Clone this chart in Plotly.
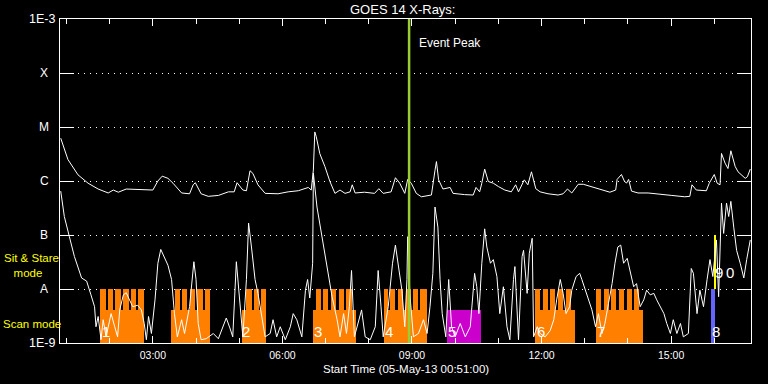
import math
import pandas as pd
import plotly.graph_objects as go

DAY = "2013-05-05"
X_START = "00:51"
X_END = "16:51"

# GOES 14 long channel (1-8 A), W/m^2
LONG_TIME = ["00:52", "01:02", "01:16", "01:30", "01:44", "01:58", "02:05", "02:12", "02:23", "02:49",
             "03:00", "03:07", "03:13", "03:21", "03:28", "03:40", "03:51", "03:56", "03:59", "04:07",
             "04:17", "04:31", "04:45", "04:53", "04:57", "05:05", "05:10", "05:15", "05:19", "05:26",
             "05:36", "05:54", "06:08", "06:22", "06:36", "06:40", "06:43", "06:45", "06:47", "06:52",
             "06:59", "07:06", "07:13", "07:20", "07:27", "07:34", "07:37", "07:41", "07:54", "08:08",
             "08:14", "08:20", "08:31", "08:37", "08:43", "08:50", "08:54", "08:59", "09:06", "09:13",
             "09:27", "09:32", "09:34", "09:37", "09:43", "09:53", "09:57", "10:13", "10:25", "10:29",
             "10:34", "10:37", "10:41", "10:46", "10:53", "11:00", "11:09", "11:18", "11:24", "11:28",
             "11:36", "11:41", "11:46", "11:52", "11:58", "12:09", "12:23", "12:30", "12:36", "12:42",
             "12:51", "12:58", "13:19", "13:28", "13:35", "13:43", "13:45", "13:51", "13:55", "13:58",
             "14:01", "14:05", "14:14", "14:28", "14:42", "15:01", "15:19", "15:26", "15:29", "15:35",
             "15:49", "15:53", "16:00", "16:04", "16:08", "16:10", "16:15", "16:19", "16:23", "16:29",
             "16:33", "16:43", "16:46", "16:50"]
LONG_FLUX = [6.2e-6, 2.5e-6, 1.3e-6, 9.1e-7, 7.1e-7, 6.0e-7, 6.8e-7, 6.2e-7, 7.1e-7, 6.8e-7,
             6.8e-7, 1.0e-6, 1.23e-6, 1.12e-6, 9.1e-7, 6.0e-7, 5.8e-7, 8.5e-7, 9.3e-7, 5.8e-7,
             5.2e-7, 5.4e-7, 6.3e-7, 6.3e-7, 9.3e-7, 6.8e-7, 6.6e-7, 1.55e-6, 1.38e-6, 8.5e-7,
             5.9e-7, 5.8e-7, 6.3e-7, 6.6e-7, 7.6e-7, 6.8e-7, 1.6e-6, 8.1e-6, 6.6e-6, 3.2e-6,
             1.86e-6, 9.8e-7, 5.9e-7, 6.8e-7, 5.9e-7, 6.3e-7, 8.5e-7, 6.0e-7, 6.2e-7, 5.9e-7,
             7.2e-7, 5.9e-7, 6.3e-7, 1.15e-6, 9.1e-7, 5.9e-7, 1.07e-6, 9.1e-7, 5.9e-7, 5.1e-7,
             5.5e-7, 1.58e-6, 2.29e-6, 1.05e-6, 7.1e-7, 7.6e-7, 5.9e-7, 5.6e-7, 5.5e-7, 7.6e-7,
             6.3e-7, 9.1e-7, 1.66e-6, 9.8e-7, 9.1e-7, 7.9e-7, 6.8e-7, 6.3e-7, 8.5e-7, 6.3e-7,
             1.05e-6, 8.5e-7, 1.48e-6, 7.2e-7, 6.3e-7, 5.8e-7, 5.5e-7, 5.8e-7, 7.1e-7, 6.0e-7,
             8.7e-7, 8.7e-7, 7.1e-7, 6.6e-7, 6.2e-7, 6.8e-7, 1.07e-6, 1.32e-6, 1.0e-6, 9.1e-7,
             1.07e-6, 6.5e-7, 6.0e-7, 6.0e-7, 5.8e-7, 5.4e-7, 5.1e-7, 5.2e-7, 8.5e-7, 6.8e-7,
             6.6e-7, 9.1e-7, 1.32e-6, 9.1e-7, 8.5e-7, 3.24e-6, 2.14e-6, 1.70e-6, 3.63e-6, 1.86e-6,
             1.48e-6, 1.12e-6, 1.20e-6, 1.66e-6]

# GOES 14 short channel (0.5-4 A), W/m^2
SHORT_TIME = ["00:52", "00:57", "01:04", "01:11", "01:21", "01:28", "01:34", "01:39", "01:41", "01:44",
              "01:48", "01:51", "01:55", "02:02", "02:07", "02:11", "02:14", "02:19", "02:23", "02:28",
              "02:32", "02:39", "02:44", "02:48", "02:51", "02:54", "02:58", "03:03", "03:07", "03:11",
              "03:16", "03:21", "03:26", "03:30", "03:34", "03:40", "03:44", "03:51", "03:57", "04:00",
              "04:03", "04:07", "04:14", "04:24", "04:31", "04:38", "04:42", "04:47", "04:51", "04:56",
              "05:01", "05:05", "05:10", "05:13", "05:17", "05:22", "05:26", "05:31", "05:36", "05:43",
              "05:47", "05:52", "05:57", "06:04", "06:11", "06:15", "06:20", "06:27", "06:32", "06:35",
              "06:38", "06:42", "06:43", "06:48", "06:55", "07:02", "07:09", "07:16", "07:20", "07:25",
              "07:29", "07:33", "07:36", "07:40", "07:46", "07:50", "07:55", "08:02", "08:09", "08:13",
              "08:17", "08:20", "08:27", "08:33", "08:37", "08:41", "08:46", "08:50", "08:53", "08:54",
              "08:57", "09:02", "09:09", "09:16", "09:21", "09:25", "09:29", "09:32", "09:36", "09:39",
              "09:42", "09:47", "09:51", "09:55", "10:00", "10:07", "10:14", "10:21", "10:27", "10:30",
              "10:33", "10:37", "10:41", "10:44", "10:49", "10:53", "10:58", "11:02", "11:07", "11:12",
              "11:16", "11:21", "11:23", "11:28", "11:33", "11:35", "11:40", "11:43", "11:47", "11:49",
              "11:54", "11:58", "12:05", "12:12", "12:17", "12:21", "12:26", "12:30", "12:34", "12:39",
              "12:42", "12:48", "12:53", "12:56", "13:01", "13:05", "13:10", "13:15", "13:19", "13:24",
              "13:28", "13:33", "13:38", "13:42", "13:46", "13:50", "13:54", "13:59", "14:03", "14:08",
              "14:12", "14:17", "14:22", "14:26", "14:31", "14:36", "14:40", "14:45", "14:50", "14:54",
              "14:59", "15:03", "15:08", "15:13", "15:17", "15:24", "15:28", "15:31", "15:36", "15:40",
              "15:45", "15:50", "15:54", "15:58", "16:03", "16:06", "16:10", "16:13", "16:17", "16:20",
              "16:23", "16:27", "16:31", "16:36", "16:41", "16:45", "16:50"]
SHORT_FLUX = [6.5e-7, 2.2e-7, 9.3e-8, 4.0e-8, 1.6e-8, 1.4e-8, 7.8e-9, 4.7e-9, 2.0e-9, 3.1e-9,
              1.15e-9, 2.7e-9, 1.3e-9, 3.5e-9, 2.0e-9, 1.3e-9, 4.1e-9, 7.8e-9, 8.5e-9, 6.3e-9,
              4.7e-9, 5.0e-9, 4.1e-9, 2.3e-9, 1.15e-9, 3.1e-9, 1.5e-9, 6.3e-9, 3.0e-8, 5.4e-8,
              3.7e-8, 2.75e-8, 1.5e-8, 3.5e-9, 1.3e-9, 2.7e-9, 1.5e-9, 4.7e-9, 3.2e-8, 1.5e-8,
              2.3e-9, 1.15e-9, 1.2e-9, 1.5e-9, 1.2e-9, 2.0e-9, 2.9e-9, 1.9e-9, 1.3e-9, 3.2e-8,
              4.7e-9, 1.3e-9, 1.5e-8, 1.66e-7, 6.0e-8, 1.5e-8, 8.3e-9, 3.5e-9, 1.3e-9, 1.5e-9,
              2.7e-9, 1.3e-9, 2.0e-9, 1.15e-9, 2.0e-9, 3.5e-9, 2.7e-9, 1.3e-9, 9.5e-9, 1.5e-8,
              6.8e-9, 3.0e-8, 1.4e-6, 3.3e-7, 9.3e-8, 2.6e-8, 7.2e-9, 2.7e-9, 1.3e-9, 3.5e-9,
              1.5e-9, 4.7e-9, 2.2e-8, 1.3e-9, 2.7e-9, 4.1e-9, 1.3e-9, 1.15e-9, 2.0e-9, 2.2e-8,
              4.7e-9, 1.3e-9, 4.7e-9, 3.0e-8, 6.5e-8, 3.0e-8, 9.5e-9, 2.0e-9, 1.5e-8, 9.3e-8,
              8.3e-9, 1.3e-9, 1.5e-9, 2.7e-9, 1.5e-9, 4.7e-9, 1.95e-8, 3.3e-7, 1.4e-7, 1.5e-8,
              3.5e-9, 1.3e-9, 1.5e-8, 2.0e-9, 1.3e-9, 2.3e-9, 1.3e-9, 2.0e-9, 1.95e-8, 1.1e-8,
              3.5e-9, 3.0e-8, 1.3e-7, 6.0e-8, 3.0e-8, 3.5e-8, 1.7e-8, 3.5e-9, 1.1e-8, 2.0e-9,
              1.15e-9, 1.5e-8, 2.6e-8, 1.15e-9, 4.0e-8, 5.2e-8, 8.3e-9, 4.6e-8, 8.7e-8, 1.3e-9,
              2.0e-9, 1.5e-9, 1.3e-9, 1.7e-9, 2.7e-9, 6.3e-9, 1.5e-8, 8.3e-9, 3.5e-9, 4.7e-9,
              9.5e-9, 1.7e-8, 1.95e-8, 1.5e-8, 9.5e-9, 6.3e-9, 4.1e-9, 2.0e-9, 3.5e-9, 1.5e-9,
              2.3e-9, 5.4e-9, 1.26e-8, 3.0e-8, 6.0e-8, 6.5e-8, 3.0e-8, 3.7e-8, 2.2e-8, 1.1e-8,
              1.26e-8, 4.7e-9, 6.3e-9, 9.5e-9, 7.8e-9, 8.3e-9, 6.3e-9, 4.7e-9, 3.5e-9, 2.3e-9,
              1.5e-9, 2.7e-9, 1.5e-9, 2.3e-9, 1.3e-9, 1.5e-9, 2.4e-8, 1.95e-8, 3.5e-9, 9.5e-9,
              4.7e-9, 1.5e-8, 3.5e-8, 1.7e-8, 8.1e-8, 7.2e-9, 3.9e-7, 1.07e-7, 3.9e-7, 2.2e-7,
              4.2e-7, 1.4e-7, 5.2e-8, 3.0e-8, 1.6e-8, 3.5e-8, 8.1e-8]

# Observation blocks
OBS_START = ["01:47", "03:25", "05:04", "06:42", "08:21", "09:49", "11:51", "13:16", "15:56", "15:59"]
OBS_END = ["02:48", "04:20", "05:37", "07:42", "09:21", "10:36", "12:47", "14:21", "16:01", "16:03"]
OBS_KIND = ["raster", "raster", "raster", "raster", "raster", "mosaic", "raster", "raster", "scan", "sitstare"]

# Individual rasters within the raster blocks
RASTER_START = ["01:47", "01:58", "02:08", "02:19", "02:30", "02:40",
                "03:31", "03:41", "03:52", "04:02", "04:13",
                "05:10", "05:21", "05:30",
                "06:47", "06:57", "07:08", "07:18", "07:29",
                "08:21", "08:30", "08:40", "08:51", "09:01", "09:11",
                "11:51", "12:02", "12:12", "12:23", "12:34",
                "13:16", "13:27", "13:37", "13:48", "13:59", "14:09"]
RASTER_END = ["01:55", "02:05", "02:16", "02:27", "02:37", "02:48",
              "03:38", "03:48", "03:59", "04:09", "04:20",
              "05:18", "05:28", "05:37",
              "06:53", "07:04", "07:15", "07:25", "07:36",
              "08:26", "08:37", "08:47", "08:58", "09:08", "09:21",
              "11:58", "12:09", "12:19", "12:30", "12:41",
              "13:23", "13:34", "13:44", "13:55", "14:06", "14:16"]

LABEL_TEXT = ["1", "2", "3", "4", "5", "6", "7", "8", "9", "0"]
LABEL_TIME = ["01:55", "05:10", "06:50", "08:28", "09:56", "11:59", "13:23", "16:03", "16:07", "16:22"]
LABEL_ROW = ["scan"] * 8 + ["sitstare"] * 2

EVENT_PEAK = "08:56"

LEVEL_VALS = [1e-9, 1e-8, 1e-7, 1e-6, 1e-5, 1e-4, 1e-3]
LEVEL_TEXT = ["1E-9", "A", "B", "C", "M", "X", "1E-3"]

# ---------------- styling ----------------
FONT = "Liberation Sans"
KIND_STYLE = {  # color, bottom, top (in flux units of the log axis)
    "raster": ("#ff8000", 1e-9, 4.1e-9),
    "mosaic": ("#cc00cc", 1e-9, 4.1e-9),
    "scan": ("#6464ff", 1e-9, 1e-8),
    "sitstare": ("#ffff00", 1e-8, 1e-7),
}
RASTER_TOP = 1e-8
LABEL_Y = {"scan": 10 ** -8.78, "sitstare": 10 ** -7.69}


def ts(t):
    return pd.Timestamp(f"{DAY} {t}")


fig = go.Figure()

for kind, (color, bottom, top) in KIND_STYLE.items():
    idx = [i for i, k in enumerate(OBS_KIND) if k == kind]
    if not idx:
        continue
    s = [ts(OBS_START[i]) for i in idx]
    e = [ts(OBS_END[i]) for i in idx]
    fig.add_trace(go.Bar(
        x=[a + (b - a) / 2 for a, b in zip(s, e)],
        y=[top - bottom] * len(idx), base=[bottom] * len(idx),
        width=[(b - a).total_seconds() * 1000 for a, b in zip(s, e)],
        marker=dict(color=color, line=dict(width=0)), hoverinfo="skip"))

rs = [ts(t) for t in RASTER_START]
re_ = [ts(t) for t in RASTER_END]
fig.add_trace(go.Bar(
    x=[a + (b - a) / 2 for a, b in zip(rs, re_)],
    y=[RASTER_TOP - 1e-9] * len(rs), base=[1e-9] * len(rs),
    width=[(b - a).total_seconds() * 1000 for a, b in zip(rs, re_)],
    marker=dict(color=KIND_STYLE["raster"][0], line=dict(width=0)), hoverinfo="skip"))

fig.add_trace(go.Scatter(x=[ts(t) for t in LONG_TIME], y=LONG_FLUX, mode="lines",
                         line=dict(color="white", width=1)))
fig.add_trace(go.Scatter(x=[ts(t) for t in SHORT_TIME], y=SHORT_FLUX, mode="lines",
                         line=dict(color="white", width=1)))

fig.add_shape(type="line", xref="x", yref="paper", x0=ts(EVENT_PEAK), x1=ts(EVENT_PEAK),
              y0=0, y1=1, line=dict(color="#9acd32", width=2.5), layer="above")

ann = []
for v, t in zip(LEVEL_VALS, LEVEL_TEXT):
    if t.startswith("1E"):
        ann.append(dict(xref="paper", x=0, xshift=-3, xanchor="right", yref="y", y=math.log10(v),
                        yanchor="middle", text=t, showarrow=False,
                        font=dict(color="white", size=12.5, family=FONT)))
    else:
        ann.append(dict(xref="paper", x=0, xshift=-16, xanchor="center", yref="y", y=math.log10(v),
                        yanchor="middle", text=t, showarrow=False,
                        font=dict(color="white", size=12, family=FONT)))

for txt, t, row in zip(LABEL_TEXT, LABEL_TIME, LABEL_ROW):
    ann.append(dict(xref="x", x=ts(t), yref="y", y=math.log10(LABEL_Y[row]), yanchor="middle",
                    text=txt, showarrow=False, font=dict(color="white", size=15, family=FONT)))

ann += [
    dict(xref="paper", x=0.495, yref="paper", y=1.028, yanchor="middle", text="GOES 14 X-Rays:",
         showarrow=False, font=dict(color="white", size=13, family=FONT)),
    dict(xref="x", x=ts(EVENT_PEAK), xshift=8, xanchor="left", yref="paper", y=0.926, yanchor="middle",
         text="Event Peak", showarrow=False, font=dict(color="white", size=12, family=FONT)),
    dict(xref="paper", x=0.5, yref="paper", y=-0.08, yanchor="middle",
         text="Start Time (05-May-13 00:51:00)",
         showarrow=False, font=dict(color="white", size=11.5, family=FONT)),
    dict(xref="paper", x=-0.084, xanchor="left", yref="paper", y=0.2407, yanchor="middle",
         text="Sit & Stare<br>&nbsp;&nbsp;&nbsp;mode", align="left",
         showarrow=False, font=dict(color="yellow", size=11.5, family=FONT)),
    dict(xref="paper", x=-0.086, xanchor="left", yref="paper", y=0.0586, yanchor="middle",
         text="Scan mode", showarrow=False, font=dict(color="yellow", size=11.5, family=FONT)),
]

fig.update_layout(
    width=768, height=384, margin=dict(l=60, r=17, t=19, b=41, pad=0),
    paper_bgcolor="black", plot_bgcolor="black", showlegend=False, barmode="overlay",
    bargap=0, annotations=ann,
    xaxis=dict(type="date", range=[ts(X_START), ts(X_END)], tickformat="%H:%M",
               tick0=f"{DAY} 00:00", dtick=3 * 3600 * 1000, ticks="inside", ticklen=7,
               tickcolor="white", showline=True, linecolor="white", linewidth=1, mirror="ticks",
               showgrid=False, zeroline=False, ticklabelstandoff=2,
               tickfont=dict(color="white", size=10.5, family=FONT),
               minor=dict(dtick=3600 * 1000, ticks="inside", ticklen=5, tickcolor="white", showgrid=False)),
    yaxis=dict(type="log", range=[-9, -3], tickvals=LEVEL_VALS, showticklabels=False,
               ticks="inside", ticklen=14, tickcolor="white", showline=True, linecolor="white",
               linewidth=1, mirror="ticks", showgrid=True, gridcolor="white", gridwidth=1,
               griddash="1px,5px", zeroline=False),
)

fig.write_html("out.html", config={"displayModeBar": False},
               post_script="document.body.style.margin='0';document.body.style.background='black';")
